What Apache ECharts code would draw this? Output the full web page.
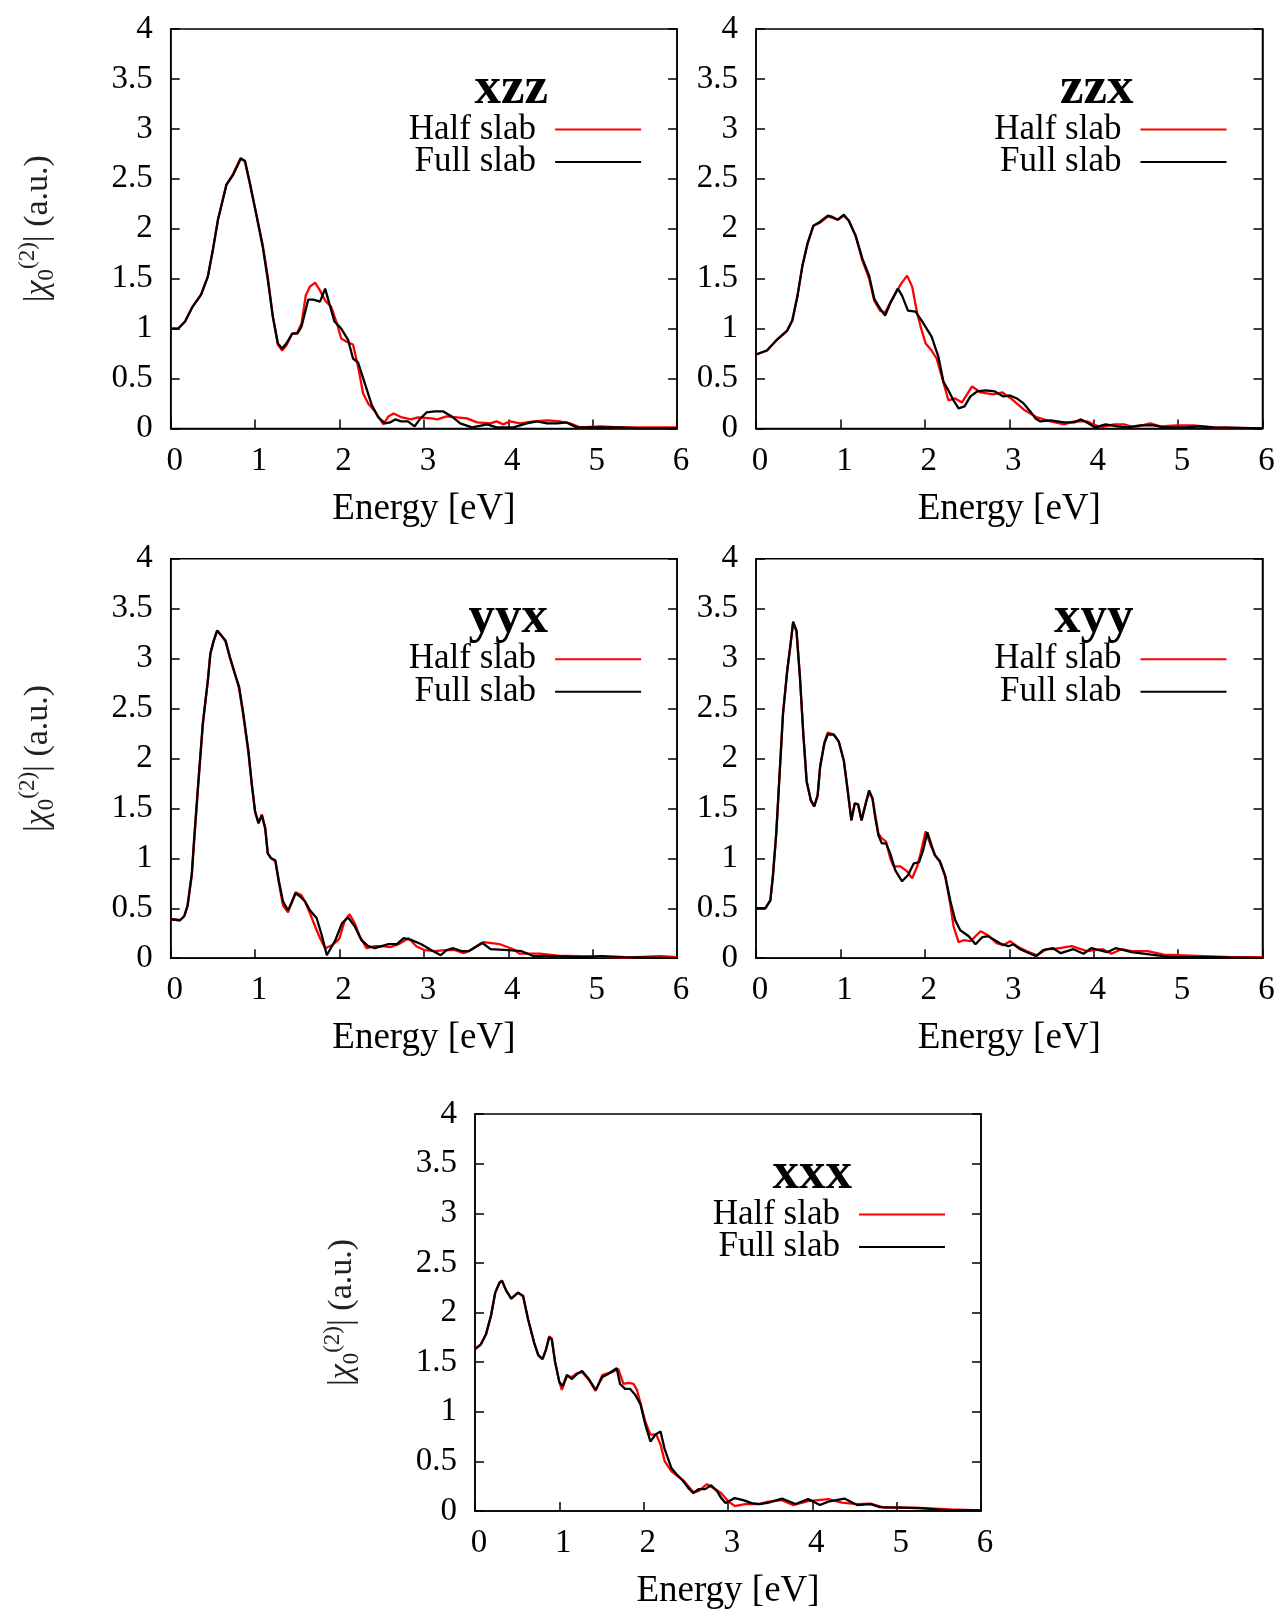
<!DOCTYPE html>
<html><head><meta charset="utf-8">
<script src="https://cdn.jsdelivr.net/npm/echarts@6/dist/echarts.min.js"></script>
<style>html,body{margin:0;padding:0;background:#fff}#c{width:1279px;height:1611px}</style>
</head><body><div id="c"></div>
<script>
// ---------- data ----------
const panelTitles = ['xzz', 'zzx', 'yyx', 'xyy', 'xxx'];
const seriesNames = ['Half slab', 'Full slab'];
const energyRange = [0, 6], energyStep = 1;
const chiRange = [0, 4], chiStep = 0.5;

const halfXzz = [[0,1.0],[0.09,1.0],[0.17,1.07],[0.26,1.22],[0.36,1.34],[0.44,1.52],[0.5,1.79],[0.56,2.09],[0.66,2.44],[0.74,2.55],[0.83,2.71],[0.88,2.67],[0.94,2.44],[1.02,2.12],[1.09,1.84],[1.15,1.52],[1.21,1.12],[1.27,0.84],[1.32,0.78],[1.37,0.83],[1.44,0.95],[1.50,0.96],[1.55,1.05],[1.60,1.33],[1.65,1.42],[1.71,1.46],[1.77,1.38],[1.83,1.28],[1.90,1.22],[1.97,1.05],[2.02,0.90],[2.08,0.87],[2.16,0.84],[2.22,0.62],[2.28,0.35],[2.34,0.25],[2.42,0.17],[2.52,0.04],[2.58,0.12],[2.64,0.15],[2.74,0.11],[2.85,0.09],[2.93,0.11],[3.09,0.10],[3.16,0.09],[3.27,0.12],[3.39,0.11],[3.51,0.10],[3.63,0.06],[3.79,0.05],[3.86,0.07],[3.94,0.04],[4.02,0.07],[4.14,0.05],[4.30,0.07],[4.46,0.08],[4.61,0.07],[4.73,0.05],[4.85,0.01],[5.09,0.02],[5.33,0.01],[5.6,0.01],[6,0.01]];
const fullXzz = [[0,1.0],[0.09,1.0],[0.17,1.07],[0.26,1.22],[0.36,1.34],[0.44,1.52],[0.5,1.79],[0.56,2.09],[0.66,2.44],[0.74,2.54],[0.83,2.70],[0.88,2.68],[0.94,2.45],[1.02,2.12],[1.09,1.82],[1.15,1.49],[1.21,1.12],[1.27,0.85],[1.32,0.80],[1.37,0.85],[1.44,0.95],[1.50,0.95],[1.55,1.02],[1.63,1.29],[1.69,1.29],[1.77,1.27],[1.83,1.40],[1.88,1.25],[1.94,1.07],[2.02,1.0],[2.10,0.89],[2.16,0.70],[2.22,0.66],[2.30,0.45],[2.38,0.24],[2.46,0.11],[2.54,0.05],[2.60,0.06],[2.66,0.09],[2.73,0.07],[2.81,0.07],[2.89,0.02],[2.95,0.09],[3.03,0.16],[3.13,0.17],[3.23,0.17],[3.33,0.12],[3.43,0.05],[3.57,0.01],[3.75,0.04],[3.86,0.01],[4.06,0.01],[4.22,0.05],[4.34,0.07],[4.46,0.05],[4.58,0.05],[4.69,0.06],[4.81,0.01],[5.09,0.01],[5.33,0.01],[5.56,0.0],[6,0.0]];

const halfZzx = [[0,0.74],[0.13,0.78],[0.25,0.89],[0.37,0.98],[0.43,1.08],[0.49,1.32],[0.55,1.63],[0.61,1.85],[0.68,2.03],[0.76,2.06],[0.85,2.12],[0.90,2.11],[0.97,2.09],[1.04,2.13],[1.10,2.08],[1.18,1.93],[1.26,1.68],[1.34,1.50],[1.40,1.28],[1.47,1.18],[1.53,1.16],[1.59,1.26],[1.65,1.35],[1.72,1.45],[1.79,1.53],[1.85,1.42],[1.91,1.15],[1.95,1.02],[2.01,0.85],[2.08,0.78],[2.14,0.70],[2.20,0.52],[2.28,0.28],[2.36,0.30],[2.44,0.26],[2.56,0.42],[2.66,0.36],[2.81,0.34],[2.92,0.36],[3.02,0.30],[3.17,0.19],[3.33,0.11],[3.49,0.07],[3.65,0.04],[3.77,0.07],[3.92,0.07],[4.08,0.01],[4.24,0.04],[4.36,0.04],[4.48,0.01],[4.67,0.05],[4.79,0.02],[4.98,0.03],[5.18,0.03],[5.42,0.01],[6,0.0]];
const fullZzx = [[0,0.74],[0.13,0.78],[0.25,0.89],[0.37,0.98],[0.43,1.08],[0.49,1.32],[0.55,1.63],[0.61,1.85],[0.68,2.03],[0.76,2.07],[0.85,2.13],[0.90,2.12],[0.97,2.09],[1.04,2.14],[1.10,2.08],[1.18,1.93],[1.26,1.70],[1.34,1.53],[1.40,1.30],[1.47,1.20],[1.53,1.13],[1.59,1.25],[1.68,1.40],[1.73,1.33],[1.80,1.18],[1.89,1.17],[1.97,1.07],[2.08,0.92],[2.16,0.72],[2.22,0.47],[2.28,0.38],[2.34,0.28],[2.40,0.20],[2.47,0.22],[2.54,0.32],[2.62,0.37],[2.72,0.38],[2.83,0.37],[2.93,0.32],[3.01,0.33],[3.09,0.30],[3.17,0.25],[3.25,0.17],[3.31,0.10],[3.37,0.07],[3.49,0.08],[3.65,0.06],[3.77,0.06],[3.85,0.09],[3.92,0.06],[4.02,0.01],[4.14,0.04],[4.28,0.02],[4.40,0.01],[4.55,0.03],[4.71,0.03],[4.83,0.01],[5.10,0.01],[5.26,0.02],[5.42,0.01],[6,0.0]];

const halfYyx = [[0,0.39],[0.11,0.38],[0.16,0.42],[0.20,0.52],[0.25,0.83],[0.28,1.2],[0.32,1.66],[0.38,2.33],[0.44,2.78],[0.47,3.05],[0.51,3.18],[0.55,3.28],[0.60,3.23],[0.65,3.17],[0.70,3.01],[0.76,2.85],[0.81,2.70],[0.86,2.43],[0.92,2.06],[0.96,1.74],[1.0,1.46],[1.04,1.36],[1.08,1.44],[1.12,1.30],[1.15,1.05],[1.19,1.0],[1.24,0.97],[1.28,0.76],[1.33,0.53],[1.39,0.46],[1.43,0.55],[1.48,0.66],[1.55,0.63],[1.60,0.55],[1.65,0.45],[1.71,0.32],[1.77,0.20],[1.83,0.10],[1.91,0.13],[1.97,0.17],[2.0,0.2],[2.06,0.37],[2.12,0.44],[2.18,0.35],[2.24,0.22],[2.32,0.10],[2.42,0.12],[2.50,0.12],[2.60,0.11],[2.70,0.14],[2.82,0.20],[2.91,0.12],[3.01,0.08],[3.13,0.07],[3.25,0.08],[3.37,0.08],[3.47,0.05],[3.53,0.07],[3.71,0.16],[3.90,0.14],[4.06,0.09],[4.13,0.045],[4.37,0.045],[4.59,0.025],[4.85,0.02],[5.38,0.005],[5.8,0.02],[6,0.01]];
const fullYyx = [[0,0.39],[0.11,0.38],[0.16,0.42],[0.20,0.53],[0.25,0.85],[0.28,1.22],[0.32,1.68],[0.38,2.35],[0.44,2.78],[0.47,3.05],[0.51,3.18],[0.55,3.28],[0.60,3.23],[0.65,3.18],[0.70,3.02],[0.76,2.85],[0.81,2.72],[0.86,2.45],[0.92,2.08],[0.96,1.75],[1.0,1.47],[1.04,1.35],[1.08,1.43],[1.12,1.30],[1.15,1.05],[1.19,1.0],[1.24,0.98],[1.28,0.78],[1.33,0.57],[1.39,0.48],[1.43,0.55],[1.48,0.65],[1.53,0.62],[1.59,0.57],[1.65,0.48],[1.73,0.40],[1.79,0.23],[1.85,0.03],[1.95,0.18],[2.03,0.35],[2.10,0.41],[2.18,0.32],[2.26,0.18],[2.34,0.12],[2.42,0.10],[2.50,0.12],[2.58,0.14],[2.68,0.14],[2.76,0.20],[2.86,0.18],[2.97,0.14],[3.09,0.08],[3.20,0.03],[3.27,0.08],[3.35,0.10],[3.45,0.07],[3.53,0.07],[3.69,0.155],[3.79,0.09],[4.0,0.08],[4.16,0.07],[4.30,0.02],[4.53,0.02],[4.85,0.01],[5.11,0.02],[5.38,0.01],[6,0.0]];

const halfXyy = [[0,0.50],[0.11,0.50],[0.17,0.58],[0.20,0.82],[0.24,1.25],[0.28,1.85],[0.32,2.45],[0.37,2.88],[0.41,3.15],[0.44,3.36],[0.48,3.27],[0.52,2.82],[0.56,2.25],[0.60,1.77],[0.65,1.58],[0.69,1.52],[0.73,1.63],[0.76,1.92],[0.81,2.16],[0.85,2.26],[0.92,2.24],[0.98,2.17],[1.04,1.98],[1.08,1.72],[1.13,1.38],[1.17,1.55],[1.21,1.54],[1.25,1.38],[1.30,1.55],[1.34,1.66],[1.38,1.60],[1.41,1.45],[1.45,1.25],[1.49,1.20],[1.54,1.17],[1.59,1.0],[1.63,0.92],[1.71,0.92],[1.79,0.87],[1.85,0.80],[1.91,0.92],[1.95,1.05],[2.01,1.27],[2.07,1.13],[2.12,1.03],[2.18,0.96],[2.24,0.82],[2.30,0.55],[2.34,0.32],[2.40,0.16],[2.46,0.18],[2.54,0.17],[2.66,0.27],[2.75,0.23],[2.85,0.15],[2.93,0.13],[3.01,0.17],[3.09,0.12],[3.21,0.07],[3.33,0.03],[3.44,0.09],[3.52,0.09],[3.74,0.12],[3.92,0.07],[4.11,0.09],[4.21,0.045],[4.33,0.09],[4.45,0.07],[4.64,0.07],[4.83,0.035],[5.16,0.025],[5.63,0.01],[6,0.01]];
const fullXyy = [[0,0.50],[0.11,0.50],[0.17,0.58],[0.20,0.82],[0.24,1.25],[0.28,1.85],[0.32,2.45],[0.37,2.88],[0.41,3.15],[0.44,3.37],[0.48,3.28],[0.52,2.82],[0.56,2.25],[0.60,1.77],[0.65,1.58],[0.69,1.52],[0.73,1.63],[0.76,1.92],[0.81,2.15],[0.85,2.24],[0.92,2.24],[0.98,2.17],[1.04,1.98],[1.08,1.72],[1.13,1.38],[1.17,1.55],[1.21,1.54],[1.25,1.38],[1.30,1.55],[1.34,1.68],[1.38,1.60],[1.41,1.42],[1.45,1.23],[1.49,1.15],[1.54,1.15],[1.59,1.05],[1.65,0.88],[1.73,0.77],[1.80,0.83],[1.87,0.95],[1.93,0.96],[1.98,1.08],[2.03,1.26],[2.08,1.13],[2.12,1.03],[2.18,0.97],[2.24,0.83],[2.30,0.58],[2.36,0.38],[2.42,0.28],[2.52,0.22],[2.60,0.14],[2.68,0.21],[2.75,0.22],[2.83,0.18],[2.91,0.14],[2.99,0.12],[3.05,0.14],[3.13,0.09],[3.21,0.06],[3.32,0.02],[3.40,0.08],[3.52,0.10],[3.61,0.05],[3.76,0.09],[3.88,0.045],[3.97,0.10],[4.16,0.06],[4.26,0.10],[4.45,0.06],[4.68,0.035],[4.92,0.01],[5.39,0.01],[6,0.0]];

const halfXxx = [[0,1.63],[0.07,1.68],[0.13,1.78],[0.19,1.97],[0.24,2.20],[0.29,2.30],[0.32,2.32],[0.37,2.22],[0.43,2.14],[0.51,2.20],[0.57,2.16],[0.63,1.93],[0.70,1.70],[0.75,1.57],[0.80,1.53],[0.84,1.62],[0.88,1.76],[0.91,1.74],[0.95,1.50],[1.0,1.30],[1.03,1.22],[1.09,1.36],[1.15,1.35],[1.21,1.39],[1.27,1.40],[1.35,1.32],[1.43,1.21],[1.51,1.37],[1.58,1.39],[1.63,1.40],[1.70,1.43],[1.76,1.28],[1.82,1.29],[1.88,1.28],[1.92,1.22],[1.98,1.03],[2.02,0.90],[2.08,0.77],[2.15,0.77],[2.20,0.67],[2.25,0.50],[2.33,0.40],[2.39,0.36],[2.47,0.31],[2.53,0.25],[2.59,0.19],[2.65,0.20],[2.75,0.27],[2.85,0.22],[2.92,0.18],[3.0,0.10],[3.08,0.05],[3.20,0.07],[3.36,0.07],[3.48,0.095],[3.64,0.11],[3.77,0.06],[3.95,0.10],[4.19,0.12],[4.35,0.085],[4.53,0.07],[4.69,0.075],[4.85,0.035],[5.22,0.035],[5.64,0.015],[6,0.005]];
const fullXxx = [[0,1.63],[0.07,1.68],[0.13,1.78],[0.19,1.97],[0.24,2.20],[0.29,2.30],[0.32,2.32],[0.37,2.22],[0.43,2.14],[0.51,2.20],[0.57,2.17],[0.63,1.93],[0.70,1.70],[0.75,1.57],[0.80,1.53],[0.84,1.62],[0.88,1.75],[0.91,1.73],[0.95,1.50],[1.0,1.30],[1.04,1.26],[1.09,1.37],[1.15,1.33],[1.21,1.38],[1.27,1.41],[1.35,1.33],[1.43,1.22],[1.51,1.35],[1.58,1.38],[1.63,1.41],[1.68,1.44],[1.72,1.28],[1.78,1.23],[1.84,1.23],[1.90,1.17],[1.96,1.08],[2.02,0.87],[2.08,0.70],[2.14,0.77],[2.20,0.80],[2.25,0.62],[2.33,0.43],[2.39,0.37],[2.47,0.30],[2.53,0.23],[2.59,0.18],[2.65,0.22],[2.73,0.22],[2.80,0.26],[2.87,0.20],[2.92,0.13],[2.97,0.08],[3.08,0.13],[3.18,0.11],[3.28,0.08],[3.38,0.07],[3.48,0.085],[3.64,0.125],[3.80,0.07],[3.95,0.12],[4.09,0.06],[4.19,0.095],[4.38,0.125],[4.53,0.06],[4.69,0.07],[4.80,0.04],[5.06,0.035],[5.32,0.027],[5.59,0.007],[6,0.005]];

const halfSeries = [halfXzz, halfZzx, halfYyx, halfXyy, halfXxx];
const fullSeries = [fullXzz, fullZzx, fullYyx, fullXyy, fullXxx];
const showYName = [true, false, true, false, true];

// ---------- layout ----------
const W = 1279;
const FONT = '"Liberation Serif", "DejaVu Serif", serif';
const grids = [
  {left: 170.7, top: 29, width: 506.4, height: 399.4},
  {left: 756, top: 29, width: 506.5, height: 399.4},
  {left: 170.7, top: 558.7, width: 506.4, height: 399.5},
  {left: 756, top: 558.7, width: 506.5, height: 399.5},
  {left: 475, top: 1114, width: 506, height: 399.2}
];
const RED = '#ff0000', BLACK = '#000000';
const yName = '{a||}{c|χ}{sub|0}{sup|(2)}{a|| (a.u.)}';

const option = {animation: false, backgroundColor: '#fff', grid: [], xAxis: [], yAxis: [], series: [], legend: [], title: []};
const axisLineStyle = {color: '#000', width: 1.5};
grids.forEach((g, i) => {
  option.grid.push({left: g.left, top: g.top, width: g.width, height: g.height, show: true,
    borderColor: '#000', borderWidth: 1.5, backgroundColor: 'transparent'});
  option.xAxis.push({gridIndex: i, type: 'value', min: energyRange[0], max: energyRange[1], interval: energyStep,
    axisLine: {show: true, onZero: false, lineStyle: axisLineStyle},
    axisTick: {show: true, inside: true, length: 9, lineStyle: axisLineStyle},
    axisLabel: {color: '#000', fontFamily: FONT, fontSize: 33, margin: 16, padding: [0, 0, 0, 8]},
    splitLine: {show: false},
    name: 'Energy [eV]', nameLocation: 'middle', nameGap: 62,
    nameTextStyle: {color: '#000', fontFamily: FONT, fontSize: 37}});
  option.yAxis.push({gridIndex: i, type: 'value', position: 'left', min: chiRange[0], max: chiRange[1], interval: chiStep,
    axisLine: {show: true, onZero: false, lineStyle: axisLineStyle},
    axisTick: {show: true, inside: true, length: 9, lineStyle: axisLineStyle},
    axisLabel: {color: '#000', fontFamily: FONT, fontSize: 33, margin: 18},
    splitLine: {show: false},
    name: showYName[i] ? yName : '', nameLocation: 'middle', nameRotate: 90, nameGap: 112,
    nameTextStyle: {color: '#222', rich: {
      a: {fontFamily: FONT, fontSize: 34, lineHeight: 42, color: '#222'},
      c: {fontFamily: FONT, fontStyle: 'italic', fontSize: 34, lineHeight: 42, color: '#222'},
      sub: {fontFamily: FONT, fontSize: 23, lineHeight: 23, verticalAlign: 'bottom', color: '#222'},
      sup: {fontFamily: FONT, fontSize: 23, lineHeight: 23, verticalAlign: 'top', color: '#222'}
    }}});
  option.yAxis.push({gridIndex: i, type: 'value', position: 'right', min: chiRange[0], max: chiRange[1], interval: chiStep,
    axisLine: {show: true, onZero: false, lineStyle: axisLineStyle},
    axisTick: {show: true, inside: true, length: 9, lineStyle: axisLineStyle},
    axisLabel: {show: false}, splitLine: {show: false}});
  option.series.push({type: 'line', name: seriesNames[0], xAxisIndex: i, yAxisIndex: 2 * i, data: halfSeries[i],
    symbol: 'none', lineStyle: {color: RED, width: 2.3}, itemStyle: {color: RED}, z: 2});
  option.series.push({type: 'line', name: seriesNames[1], xAxisIndex: i, yAxisIndex: 2 * i, data: fullSeries[i],
    symbol: 'none', lineStyle: {color: BLACK, width: 2.3}, itemStyle: {color: BLACK}, z: 3});
  const plotRight = g.left + g.width;
  option.legend.push({data: seriesNames, orient: 'vertical', align: 'right', icon: 'rect',
    right: W - (plotRight - 36), top: g.top + 83, itemWidth: 86, itemHeight: 2, itemGap: -2.5, padding: 0,
    selectedMode: false,
    textStyle: {fontFamily: FONT, fontSize: 35, lineHeight: 32, color: '#000', padding: [0, 14, 0, 0]}});
  option.title.push({text: panelTitles[i], right: W - (plotRight - 129), top: g.top + 35, padding: 0,
    textStyle: {fontFamily: FONT, fontWeight: 'bold', fontSize: 53, lineHeight: 50, color: '#000'}});
});

const chart = echarts.init(document.getElementById('c'), null, {renderer: 'canvas'});
chart.setOption(option);
</script>
</body></html>
